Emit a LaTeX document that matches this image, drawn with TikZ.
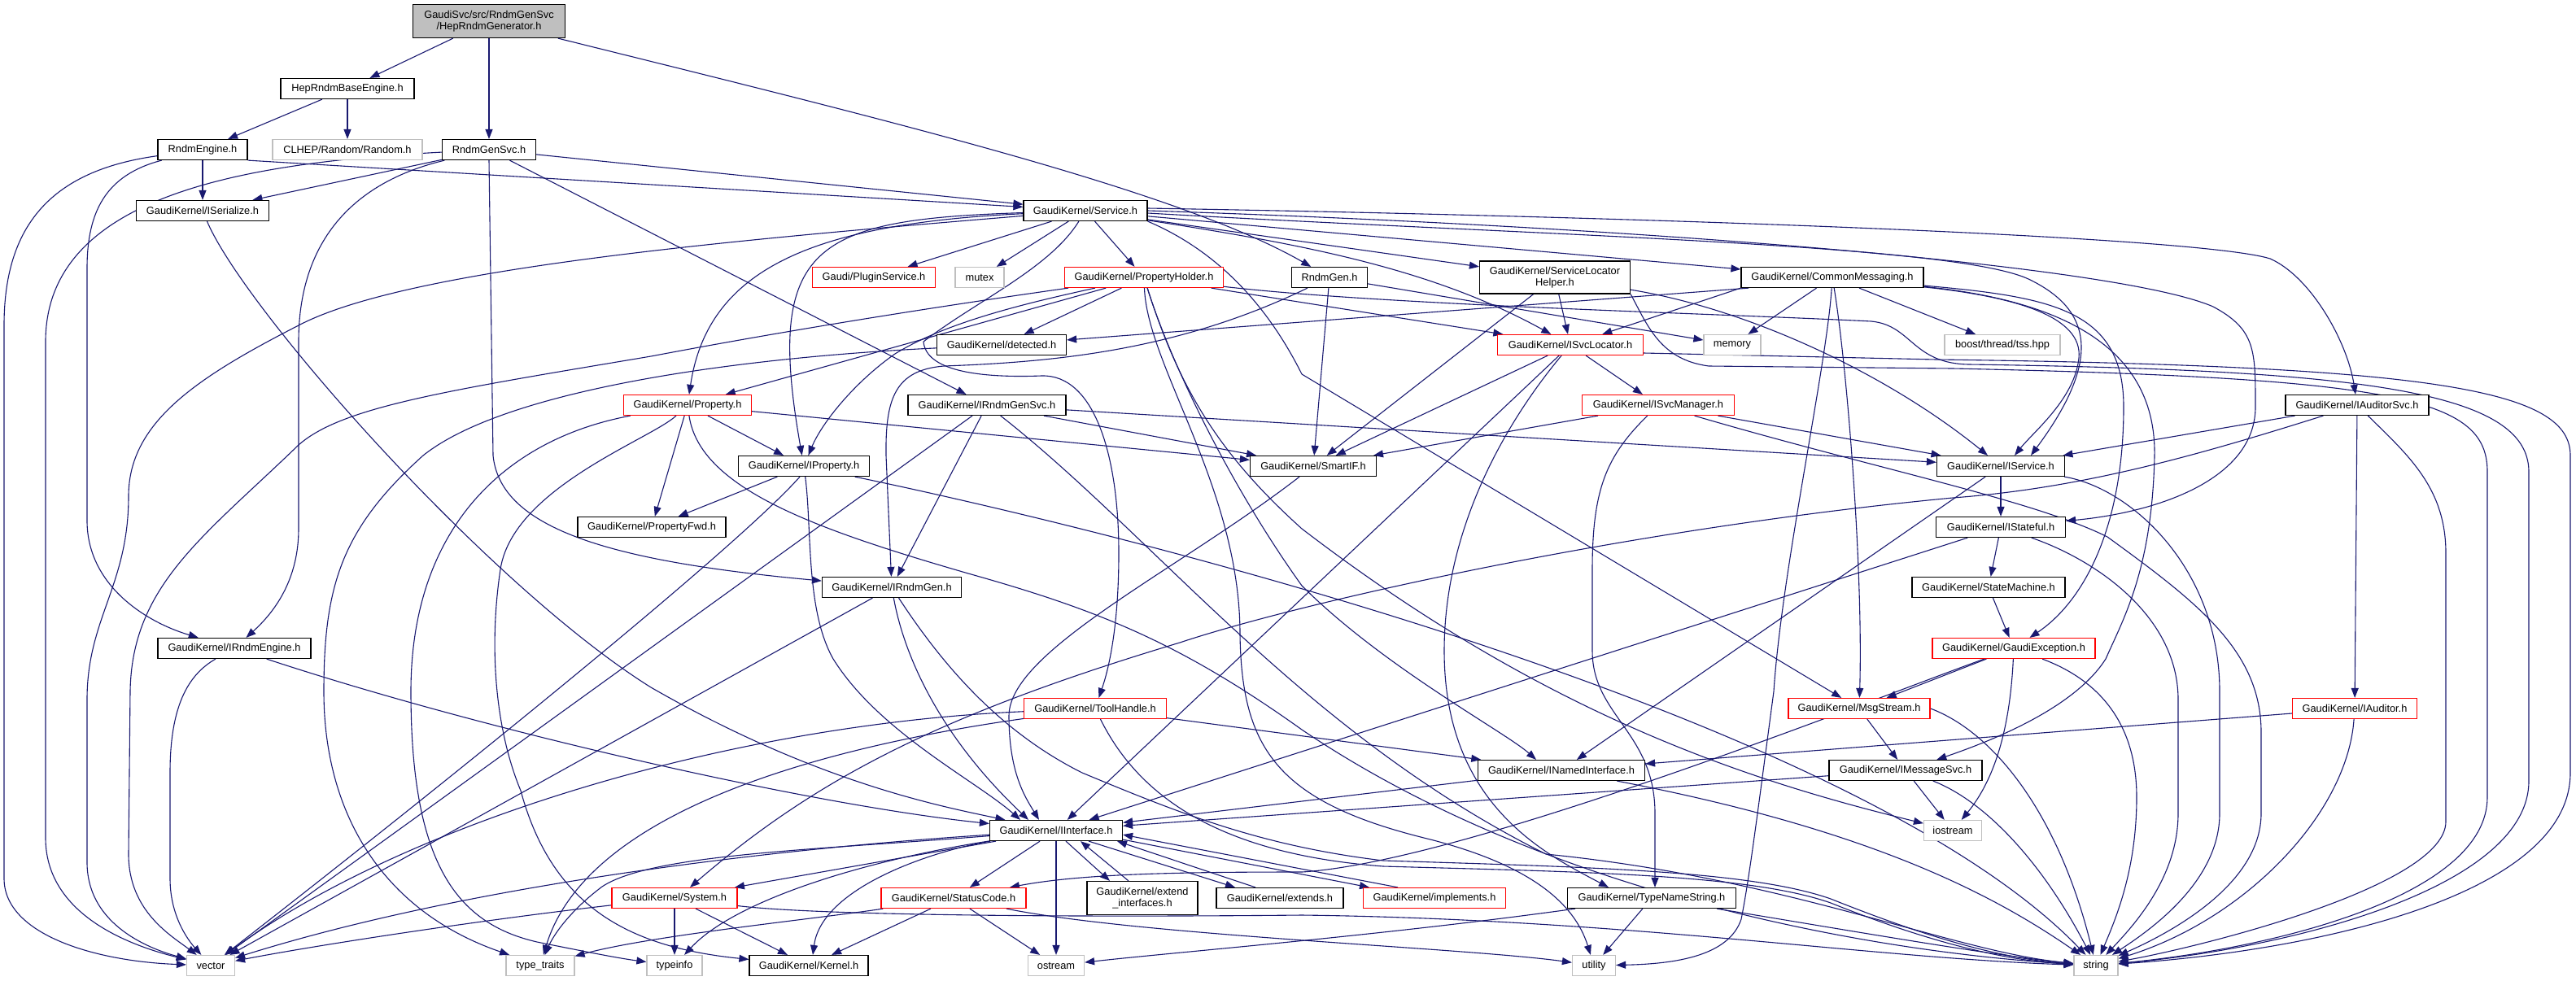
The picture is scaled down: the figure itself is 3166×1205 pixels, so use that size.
\documentclass[tikz,border=0pt]{standalone}
\usepackage{fontspec}
\setmainfont{Liberation Sans}
\usetikzlibrary{arrows.meta}
\definecolor{eblue}{HTML}{191970}
\definecolor{gbord}{HTML}{BFBFBF}
\definecolor{rootfill}{HTML}{BFBFBF}
\definecolor{rbord}{HTML}{FF0000}
\newcommand\nodefont{\fontsize{12.8}{14.5}\selectfont}
\pgfdeclarelayer{bg}
\pgfsetlayers{bg,main}
\begin{document}
\begin{tikzpicture}[x=1pt,y=-1pt,
  nb/.style={draw=black,line width=1.2pt,rectangle,inner sep=0pt,minimum height=25pt,font=\nodefont,align=center,fill=white,text=black},
  rb/.style={nb,draw=rbord},
  gb/.style={nb,draw=gbord},
  e/.style={draw=eblue,line width=1.1pt,-{Triangle[length=12pt,width=9pt]}}]
\useasboundingbox (0,0) rectangle (3166,1205);

% ---------------- nodes ----------------
\node[nb,fill=rootfill,minimum width=187pt,minimum height=41pt] (root) at (601,26) {GaudiSvc/src/RndmGenSvc\\/HepRndmGenerator.h};
\node[nb,minimum width=164pt] (hrbe) at (427,109) {HepRndmBaseEngine.h};
\node[nb,minimum width=110pt] (rndmeng) at (249,184) {RndmEngine.h};
\node[gb,minimum width=184pt] (clhep) at (427,184) {CLHEP/Random/Random.h};
\node[nb,minimum width=115pt] (rgsvc) at (601,184) {RndmGenSvc.h};
\node[nb,minimum width=163pt] (iser) at (249,259) {GaudiKernel/ISerialize.h};
\node[nb,minimum width=152pt] (service) at (1334,259) {GaudiKernel/Service.h};
\node[rb,minimum width=151pt] (plugin) at (1074,341) {Gaudi/PluginService.h};
\node[gb,minimum width=60pt] (mutex) at (1204,341) {mutex};
\node[rb,minimum width=195pt] (pholder) at (1406,341) {GaudiKernel/PropertyHolder.h};
\node[nb,minimum width=93pt] (rndmgen) at (1634,341) {RndmGen.h};
\node[nb,minimum width=185pt,minimum height=40pt] (slh) at (1911,341) {GaudiKernel/ServiceLocator\\Helper.h};
\node[nb,minimum width=224pt] (cmsg) at (2252,341) {GaudiKernel/CommonMessaging.h};
\node[nb,minimum width=159pt] (detected) at (1231,424) {GaudiKernel/detected.h};
\node[rb,minimum width=179pt] (isvcloc) at (1930,424) {GaudiKernel/ISvcLocator.h};
\node[gb,minimum width=70pt] (memory) at (2129,424) {memory};
\node[gb,minimum width=142pt] (boost) at (2461,424) {boost/thread/tss.hpp};
\node[rb,minimum width=157pt] (property) at (845,498) {GaudiKernel/Property.h};
\node[nb,minimum width=194pt] (irgsvc) at (1213,498) {GaudiKernel/IRndmGenSvc.h};
\node[rb,minimum width=187pt] (isvcman) at (2038,498) {GaudiKernel/ISvcManager.h};
\node[nb,minimum width=176pt] (iauditsvc) at (2897,498) {GaudiKernel/IAuditorSvc.h};
\node[nb,minimum width=161pt] (iproperty) at (988,573) {GaudiKernel/IProperty.h};
\node[nb,minimum width=155pt] (smartif) at (1614,573) {GaudiKernel/SmartIF.h};
\node[nb,minimum width=157pt] (iservice) at (2459,573) {GaudiKernel/IService.h};
\node[nb,minimum width=182pt] (pfwd) at (801,648) {GaudiKernel/PropertyFwd.h};
\node[nb,minimum width=159pt] (istateful) at (2459,648) {GaudiKernel/IStateful.h};
\node[nb,minimum width=171pt] (irndmgen) at (1096,722) {GaudiKernel/IRndmGen.h};
\node[nb,minimum width=188pt] (statemach) at (2444,722) {GaudiKernel/StateMachine.h};
\node[nb,minimum width=188pt] (irndmeng) at (288,797) {GaudiKernel/IRndmEngine.h};
\node[rb,minimum width=200pt] (gexc) at (2475,797) {GaudiKernel/GaudiException.h};
\node[rb,minimum width=175pt] (toolh) at (1346,871) {GaudiKernel/ToolHandle.h};
\node[rb,minimum width=174pt] (msgs) at (2285,871) {GaudiKernel/MsgStream.h};
\node[rb,minimum width=153pt] (auditor) at (2894,871) {GaudiKernel/IAuditor.h};
\node[nb,minimum width=205pt] (inamed) at (1919,947) {GaudiKernel/INamedInterface.h};
\node[nb,minimum width=188pt] (imsgsvc) at (2342,947) {GaudiKernel/IMessageSvc.h};
\node[nb,minimum width=163pt] (iinterface) at (1298,1021) {GaudiKernel/IInterface.h};
\node[gb,minimum width=71pt] (iostream) at (2400,1021) {iostream};
\node[rb,minimum width=154pt] (system) at (829,1104) {GaudiKernel/System.h};
\node[rb,minimum width=178pt] (statusc) at (1172,1104) {GaudiKernel/StatusCode.h};
\node[nb,minimum width=136pt,minimum height=41pt] (extint) at (1404,1104) {GaudiKernel/extend\\\_interfaces.h};
\node[nb,minimum width=156pt] (extends) at (1573,1104) {GaudiKernel/extends.h};
\node[rb,minimum width=175pt] (implements) at (1763,1104) {GaudiKernel/implements.h};
\node[nb,minimum width=207pt] (tns) at (2030,1104) {GaudiKernel/TypeNameString.h};
\node[gb,minimum width=59pt] (vector) at (259,1187) {vector};
\node[gb,minimum width=84pt] (typetraits) at (664,1187) {type\_traits};
\node[gb,minimum width=68pt] (typeinfo) at (829,1187) {typeinfo};
\node[nb,minimum width=146pt] (kernel) at (994,1187) {GaudiKernel/Kernel.h};
\node[gb,minimum width=69pt] (ostream) at (1298,1187) {ostream};
\node[gb,minimum width=53pt] (utility) at (1959,1187) {utility};
\node[gb,minimum width=54pt] (string) at (2576,1187) {string};

% ---------------- edges ----------------
\begin{pgfonlayer}{bg}
% root
\draw[e] (root) -- (hrbe);
\draw[e] (root) -- (rgsvc);
\draw[e] (root) .. controls (1100,150) and (1450,235) .. (rndmgen);
% HepRndmBaseEngine
\draw[e] (hrbe) -- (rndmeng);
\draw[e] (hrbe) -- (clhep);
% RndmEngine
\draw[e] (rndmeng) -- (iser);
\draw[e] (rndmeng.south east) -- (service);
\draw[e] (rndmeng) .. controls (130,215) and (107,260) .. (107,330) -- (107,640) .. controls (107,720) and (180,765) .. (irndmeng);
\draw[e] (rndmeng) .. controls (60,210) and (5,280) .. (5,400) -- (5,1080) .. controls (5,1150) and (120,1182) .. (vector);
% RndmGenSvc
\draw[e] (rgsvc) -- (iser);
\draw[e] (rgsvc) -- (service);
\draw[e] (rgsvc) .. controls (430,225) and (367,300) .. (367,420) -- (367,650) .. controls (367,710) and (340,750) .. (irndmeng);
\draw[e] (rgsvc.south) -- (606,560) .. controls (615,650) and (750,690) .. (irndmgen);
\draw[e] (rgsvc) -- (irgsvc);
\draw[e] (rgsvc) .. controls (300,200) and (56,240) .. (56,420) -- (56,1030) .. controls (56,1120) and (150,1160) .. (vector);
% RndmGen
\draw[e] (rndmgen) .. controls (1450,430) and (1300,445) .. (1160,450) .. controls (1100,455) and (1088,490) .. (1089,560) -- (irndmgen);
\draw[e] (rndmgen) -- (smartif);
\draw[e] (rndmgen) -- (memory);
% ISerialize
\draw[e] (iser) .. controls (300,380) and (600,720) .. (800,845) .. controls (1000,960) and (1150,990) .. (iinterface);
% IRndmEngine
\draw[e] (irndmeng) .. controls (600,900) and (1000,990) .. (iinterface);
\draw[e] (irndmeng) .. controls (230,830) and (209,870) .. (209,950) -- (209,1080) .. controls (209,1130) and (235,1160) .. (vector);
% Service
\draw[e] (service) -- (plugin);
\draw[e] (service) -- (mutex);
\draw[e] (service) -- (pholder);
\draw[e] (service) -- (slh);
\draw[e] (service) -- (cmsg);
\draw[e] ([yshift=3pt]service.east) .. controls (2000,266) and (2700,290) .. (2790,318) .. controls (2840,340) and (2885,420) .. (iauditsvc);
\draw[e] (service.east) .. controls (2000,278) and (2600,325) .. (2720,377) .. controls (2772,405) and (2772,430) .. (2772,500) .. controls (2772,590) and (2650,630) .. (istateful);
\draw[e] ([yshift=-3pt]service.east) .. controls (1900,290) and (2400,300) .. (2493,343) .. controls (2570,380) and (2585,440) .. ([xshift=37pt]iservice.north);
\draw[e] (service) .. controls (1600,300) and (1760,330) .. (isvcloc);
\draw[e] (service.south east) .. controls (1500,310) and (1560,380) .. (1600,460) .. controls (1800,580) and (2150,790) .. (msgs);
\draw[e] (service) .. controls (1000,270) and (940,300) .. (iproperty);
\draw[e] (service) .. controls (1000,275) and (870,330) .. (property);
\draw[e] (service) .. controls (1290,330) and (1200,370) .. (1135,420) .. controls (1138,455) and (1200,465) .. (1280,462) .. controls (1345,460) and (1375,560) .. (1375,680) .. controls (1375,780) and (1360,830) .. (toolh);
\draw[e] (service) .. controls (900,295) and (500,330) .. (367,400) .. controls (240,465) and (158,520) .. (158,610) .. controls (158,720) and (107,760) .. (107,860) -- (107,1060) .. controls (107,1140) and (190,1168) .. (vector);
% PropertyHolder
\draw[e] (pholder) -- (detected);
\draw[e] (pholder) -- (property);
\draw[e] (pholder) .. controls (1250,375) and (1160,398) .. (1100,435) .. controls (1050,470) and (1010,520) .. (iproperty);
\draw[e] (pholder) -- (isvcloc);
\draw[e] (pholder) .. controls (1200,370) and (1000,400) .. (800,438) .. controls (550,480) and (420,500) .. (367,547) .. controls (250,660) and (162,720) .. (160,850) -- (158,1050) .. controls (158,1120) and (210,1150) .. (vector);
\draw[e] (pholder) .. controls (1410,450) and (1524,600) .. (1524,780) .. controls (1526,920) and (1570,985) .. (1750,1030) .. controls (1880,1062) and (1935,1110) .. (utility);
\draw[e] (pholder) .. controls (1440,450) and (1514,600) .. (1600,720) .. controls (1700,820) and (1850,900) .. ([xshift=-31pt]inamed.north);
\draw[e] (pholder) .. controls (1450,480) and (1500,560) .. (1600,650) .. controls (1900,880) and (2150,960) .. (iostream);
\draw[e] (pholder) .. controls (1700,375) and (2100,385) .. (2300,395) .. controls (2350,400) and (2350,447) .. (2420,448) .. controls (2900,455) and (3108,480) .. (3108,580) -- (3108,960) .. controls (3108,1090) and (2820,1165) .. (string);
% ServiceLocatorHelper
\draw[e] (slh) -- (isvcloc);
\draw[e] (slh) -- (smartif);
\draw[e] (slh) .. controls (2150,380) and (2320,460) .. ([xshift=-16pt]iservice.north);
\draw[e] (slh.south east) .. controls (2025,400) and (2040,442) .. (2100,450) -- (2400,453) .. controls (2950,465) and (3057,490) .. (3057,580) -- (3057,980) .. controls (3057,1100) and (2800,1165) .. (string);
% CommonMessaging
\draw[e] ([xshift=10pt]cmsg.south west) -- (detected);
\draw[e] (cmsg.south west) -- (isvcloc);
\draw[e] (cmsg) -- (memory);
\draw[e] (cmsg) -- (boost);
\draw[e] (cmsg) .. controls (2480,365) and (2560,390) .. (2555,440) .. controls (2550,490) and (2500,530) .. ([xshift=17pt]iservice.north);
\draw[e] (cmsg) .. controls (2520,365) and (2610,380) .. (2610,500) .. controls (2610,650) and (2560,740) .. (gexc);
\draw[e] (cmsg) .. controls (2540,370) and (2650,430) .. (2648,560) .. controls (2645,700) and (2610,760) .. (2588,810) .. controls (2550,870) and (2450,910) .. (imsgsvc);
\draw[e] (cmsg) .. controls (2270,450) and (2290,700) .. (msgs);
\draw[e] (cmsg) .. controls (2245,450) and (2190,700) .. (2180,850) .. controls (2160,1000) and (2150,1080) .. (2140,1130) .. controls (2125,1175) and (2060,1185) .. (utility);
% ISvcLocator
\draw[e] (isvcloc) -- (smartif);
\draw[e] (isvcloc) -- (iinterface);
\draw[e] (isvcloc) -- (isvcman);
\draw[e] (isvcloc) .. controls (1850,520) and (1775,650) .. (1775,800) .. controls (1775,990) and (1900,1050) .. ([xshift=-53pt]tns.north);
\draw[e] ([yshift=-10pt]isvcloc.east) -- (2380,442) .. controls (3000,450) and (3159,480) .. (3159,560) -- (3159,950) .. controls (3159,1100) and (2850,1168) .. (string);
% Property
\draw[e] (property) -- (iproperty);
\draw[e] (property) -- (pfwd);
\draw[e] (property) -- (smartif);
\draw[e] (property) .. controls (620,540) and (505,650) .. (505,850) .. controls (505,1060) and (560,1135) .. (660,1158) .. controls (720,1170) and (760,1178) .. (typeinfo);
\draw[e] (property) .. controls (800,540) and (630,600) .. (615,700) .. controls (600,800) and (610,900) .. (640,972) .. controls (680,1120) and (780,1165) .. (kernel);
\draw[e] (property) .. controls (860,600) and (1000,650) .. (1190,705) .. controls (1350,750) and (1450,790) .. (1600,897) .. controls (1900,1100) and (2300,1170) .. (string);
% IProperty
\draw[e] (iproperty) -- (pfwd);
\draw[e] (iproperty) .. controls (998,650) and (990,750) .. (1024,810) .. controls (1080,900) and (1200,960) .. ([xshift=-44pt]iinterface.north);
\draw[e] (iproperty) .. controls (1500,680) and (2300,900) .. (string);
\draw[e] ([xshift=-5pt]iproperty.south) .. controls (900,680) and (500,1000) .. (vector);
% IRndmGenSvc
\draw[e] (irgsvc) -- (irndmgen);
\draw[e] (irgsvc) -- (smartif);
\draw[e] (irgsvc) -- (iservice);
\draw[e] (irgsvc) -- (vector);
\draw[e] (irgsvc) .. controls (1420,660) and (1600,900) .. (1900,1050) .. controls (2200,1080) and (2400,1170) .. (string);
% ISvcManager
\draw[e] (isvcman) -- (smartif);
\draw[e] (isvcman) -- (iservice);
\draw[e] (isvcman) .. controls (1975,560) and (1957,600) .. (1957,700) -- (1957,800) .. controls (1957,880) and (2034,900) .. (2034,1000) -- ([xshift=4pt]tns.north);
\draw[e] (isvcman) .. controls (2300,575) and (2500,615) .. (2590,660) .. controls (2700,740) and (2779,800) .. (2779,900) -- (2779,1000) .. controls (2779,1090) and (2660,1150) .. (string);
% IAuditorSvc
\draw[e] (iauditsvc) -- (iservice);
\draw[e] (iauditsvc) .. controls (2700,560) and (2560,600) .. (2400,612) .. controls (2000,650) and (1600,740) .. (1450,790) .. controls (1150,880) and (1000,960) .. ([xshift=19pt]system.north);
\draw[e] (iauditsvc) -- (auditor);
\draw[e] (iauditsvc) .. controls (2960,560) and (3006,600) .. (3006,680) -- (3006,1010) .. controls (3006,1090) and (2700,1165) .. (string);
% IService
\draw[e] (iservice) -- (istateful);
\draw[e] (iservice) -- (inamed);
\draw[e] (iservice) .. controls (2620,600) and (2728,700) .. (2728,850) -- (2728,1000) .. controls (2728,1085) and (2640,1145) .. (string);
% IStateful
\draw[e] (istateful) -- (statemach);
\draw[e] (istateful) -- (iinterface);
\draw[e] (istateful) .. controls (2580,690) and (2677,760) .. (2677,860) -- (2677,1000) .. controls (2677,1080) and (2620,1140) .. (string);
% StateMachine
\draw[e] (statemach) -- (gexc);
% GaudiException
\draw[e] (gexc) -- (msgs);
\draw[e] (gexc) .. controls (2470,900) and (2450,960) .. (iostream);
\draw[e] (gexc) .. controls (2590,840) and (2626,900) .. (2626,980) .. controls (2626,1070) and (2600,1130) .. (string);
\draw[e] (gexc) .. controls (2300,860) and (1800,1060) .. (1600,1072) .. controls (1450,1072) and (1330,1074) .. (statusc);
% MsgStream
\draw[e] (msgs) -- (imsgsvc);
\draw[e] (msgs.east) .. controls (2450,900) and (2530,1000) .. (string);
% IMessageSvc
\draw[e] (imsgsvc) -- (iinterface);
\draw[e] (imsgsvc) -- (iostream);
\draw[e] (imsgsvc) .. controls (2440,985) and (2510,1060) .. (string);
% IAuditor
\draw[e] (auditor) -- (inamed);
\draw[e] (auditor) .. controls (2885,1000) and (2760,1130) .. (string);
% ToolHandle
\draw[e] (toolh) -- (inamed);
\draw[e] (toolh) .. controls (900,890) and (500,1010) .. (vector);
\draw[e] (toolh) .. controls (1000,920) and (720,1000) .. (typetraits);
\draw[e] (toolh) .. controls (1400,980) and (1500,1050) .. (1700,1065) .. controls (1950,1072) and (2150,1075) .. (2250,1110) .. controls (2350,1150) and (2450,1180) .. (string);
% INamedInterface
\draw[e] (inamed) -- (iinterface);
\draw[e] (inamed) .. controls (2300,1020) and (2450,1100) .. (string);
% IRndmGen
\draw[e] (irndmgen) .. controls (1110,800) and (1150,900) .. ([xshift=-34pt]iinterface.north);
\draw[e] (irndmgen) -- (vector);
\draw[e] (irndmgen) .. controls (1160,820) and (1230,900) .. (1330,950) .. controls (1450,1000) and (1550,1040) .. (1700,1058) .. controls (1950,1066) and (2150,1070) .. (2250,1105) .. controls (2350,1145) and (2450,1178) .. (string);
% SmartIF
\draw[e] (smartif) .. controls (1450,700) and (1240,800) .. (1240,880) .. controls (1240,950) and (1260,980) .. ([xshift=-21pt]iinterface.north);
% detected
\draw[e] (detected) .. controls (900,440) and (620,480) .. (520,560) .. controls (420,650) and (398,720) .. (398,850) .. controls (398,1000) and (470,1120) .. (typetraits);
% IInterface
\draw[e] (iinterface) -- (system);
\draw[e] (iinterface) -- (statusc);
\draw[e] (iinterface) .. controls (1150,1045) and (1010,1090) .. ([xshift=5pt]kernel.north);
\draw[e] (iinterface) -- (ostream);
\draw[e] (iinterface) .. controls (1050,1060) and (900,1110) .. (typeinfo);
\draw[e] (iinterface) .. controls (1000,1040) and (600,1080) .. (vector);
\draw[e] (iinterface) .. controls (1000,1045) and (800,1050) .. (740,1090) .. controls (700,1120) and (680,1150) .. (typetraits);
\draw[e] ([xshift=12pt]iinterface.south) -- ([xshift=-40pt]extint.north);
\draw[e] ([xshift=-17pt]extint.north) -- ([xshift=30pt]iinterface.south);
\draw[e] ([xshift=40pt]iinterface.south) -- ([xshift=-55pt]extends.north);
\draw[e] ([xshift=-30pt]extends.north) -- ([xshift=75pt]iinterface.south);
\draw[e] ([yshift=2pt]iinterface.south east) -- ([xshift=-80pt]implements.north);
\draw[e] ([xshift=-45pt]implements.north) -- ([yshift=8pt]iinterface.south east);
% System
\draw[e] (system) -- (typeinfo);
\draw[e] (system) -- (kernel);
\draw[e] (system) .. controls (600,1130) and (400,1160) .. (vector);
\draw[e] (system) .. controls (1000,1125) and (1300,1128) .. (1600,1125) .. controls (2000,1130) and (2300,1178) .. (string);
% StatusCode
\draw[e] (statusc) -- (kernel);
\draw[e] (statusc) -- (ostream);
\draw[e] (statusc) .. controls (1400,1150) and (1800,1165) .. (utility);
\draw[e] (statusc) .. controls (1000,1130) and (800,1150) .. (typetraits);
% TypeNameString
\draw[e] (tns) .. controls (1700,1150) and (1450,1170) .. (ostream);
\draw[e] (tns) -- (utility);
\draw[e] (tns) .. controls (2250,1140) and (2450,1175) .. (string);
\end{pgfonlayer}
\end{tikzpicture}
\end{document}
